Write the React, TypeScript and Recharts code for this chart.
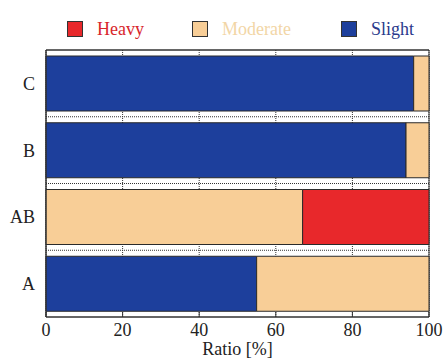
import React from 'react';
import {
  BarChart,
  Bar,
  XAxis,
  YAxis,
  CartesianGrid,
  Legend,
  ReferenceArea,
} from 'recharts';

const categories = ['C', 'B', 'AB', 'A'];
const slight = [96, 94, 0, 55];
const moderate = [4, 6, 67, 45];
const heavy = [0, 0, 33, 0];
const xTicks = [0, 20, 40, 60, 80, 100];

const data = categories.map((name, i) => ({
  name,
  slight: slight[i],
  moderate: moderate[i],
  heavy: heavy[i],
}));

const BLUE = '#1d3f9c';
const TAN = '#f8ce97';
const RED = '#e8282b';
const FONT = '"Liberation Serif", "DejaVu Serif", serif';

const legendItems = [
  { label: 'Heavy', color: RED, text: '#d8262b' },
  { label: 'Moderate', color: TAN, text: '#f2d6a6' },
  { label: 'Slight', color: BLUE, text: '#2a3a8c' },
];

const ChartLegend = () => (
  <div style={{ display: 'flex', alignItems: 'center', height: 40, paddingLeft: 67, fontFamily: FONT, fontSize: 18 }}>
    {legendItems.map((it, i) => (
      <div key={it.label} style={{ display: 'flex', alignItems: 'center', marginRight: i === 0 ? 48 : 50 }}>
        <span style={{ width: 14, height: 14, background: it.color, border: '1px solid #333', marginRight: 14 }} />
        <span style={{ color: it.text }}>{it.label}</span>
      </div>
    ))}
  </div>
);

export default function App() {
  return (
    <div style={{ width: 443, height: 358, background: '#fff', fontFamily: FONT }}>
      <style>{'body{margin:0} .recharts-label{font-family:"Liberation Serif", serif}'}</style>
      <BarChart
        width={443}
        height={358}
        data={data}
        layout="vertical"
        margin={{ top: 9, right: 14, bottom: 0, left: 0 }}
        barCategoryGap="9%"
        style={{ fontFamily: FONT }}
      >
        <Legend verticalAlign="top" height={40} content={() => <ChartLegend />} />
        <CartesianGrid
          stroke="#333"
          strokeDasharray="1 1"
          horizontalCoordinatesGenerator={({ offset }: any) =>
            [1, 2, 3].map((i) => offset.top + (offset.height * i) / categories.length)
          }
        />
        <XAxis
          type="number"
          domain={[0, 100]}
          ticks={xTicks}
          height={41}
          tickSize={-5}
          tickMargin={11}
          stroke="#333"
          tick={{ fill: '#222', fontSize: 18, fontFamily: FONT }}
          label={{ value: 'Ratio [%]', position: 'insideBottom', offset: 3, fill: '#222', fontSize: 18, fontFamily: FONT, style: { fontFamily: FONT } }}
        />
        <XAxis
          xAxisId="top"
          orientation="top"
          type="number"
          domain={[0, 100]}
          ticks={xTicks}
          height={1}
          tickSize={-5}
          tick={false}
          stroke="#333"
        />
        <YAxis
          type="category"
          dataKey="name"
          width={46}
          tickLine={false}
          tickMargin={5}
          stroke="#333"
          tick={{ fill: '#222', fontSize: 18, fontFamily: FONT }}
        />
        <Bar dataKey="slight" stackId="s" fill={BLUE} stroke="#2a2a2a" strokeWidth={1} isAnimationActive={false} />
        <Bar dataKey="moderate" stackId="s" fill={TAN} stroke="#2a2a2a" strokeWidth={1} isAnimationActive={false} />
        <Bar dataKey="heavy" stackId="s" fill={RED} stroke="#2a2a2a" strokeWidth={1} isAnimationActive={false} />
        <ReferenceArea x1={0} x2={100} fill="none" stroke="#333" strokeWidth={1} />
      </BarChart>
    </div>
  );
}
